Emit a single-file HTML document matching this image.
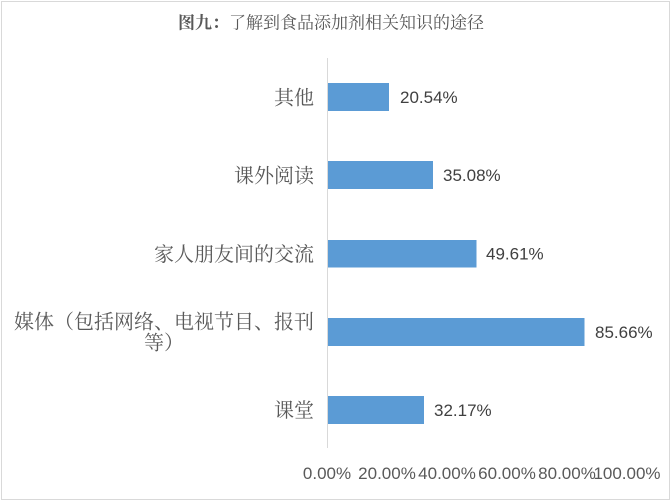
<!DOCTYPE html>
<html><head><meta charset="utf-8">
<style>
html,body{margin:0;padding:0;background:#fff;}
svg{display:block;}
.cat{font-family:"Noto Serif CJK SC","Liberation Serif",serif;font-size:20px;fill:#595959;}
.val{font-family:"Liberation Sans","Noto Sans CJK SC",sans-serif;font-size:17px;fill:#404040;}
.tick{font-family:"Liberation Sans","Noto Sans CJK SC",sans-serif;font-size:17px;fill:#595959;}
.title{font-family:"Noto Serif CJK SC","Liberation Serif",serif;font-size:17px;fill:#595959;}
</style></head>
<body>
<svg width="671" height="501" viewBox="0 0 671 501" xmlns="http://www.w3.org/2000/svg">
<rect x="0" y="0" width="671" height="501" fill="#fff"/>
<rect x="1.5" y="1.5" width="668" height="498" fill="none" stroke="#d9d9d9" stroke-width="1"/>
<text class="title" x="178" y="28.5"><tspan font-weight="bold">图九：</tspan>了解到食品添加剂相关知识的途径</text>

<line x1="327.5" y1="58" x2="327.5" y2="448" stroke="#d9d9d9" stroke-width="1"/>

<rect x="328" y="83" width="61" height="28" fill="#5b9bd5"/>
<rect x="328" y="161" width="105" height="28" fill="#5b9bd5"/>
<rect x="328" y="240" width="148.5" height="27.5" fill="#5b9bd5"/>
<rect x="328" y="318" width="256.5" height="28" fill="#5b9bd5"/>
<rect x="328" y="396" width="96" height="28" fill="#5b9bd5"/>

<text class="val" x="400" y="103">20.54%</text>
<text class="val" x="443" y="181">35.08%</text>
<text class="val" x="486" y="259.5">49.61%</text>
<text class="val" x="595" y="338">85.66%</text>
<text class="val" x="434" y="416">32.17%</text>

<text class="cat" x="314" y="104.5" text-anchor="end">其他</text>
<text class="cat" x="314" y="182.5" text-anchor="end">课外阅读</text>
<text class="cat" x="314" y="261" text-anchor="end">家人朋友间的交流</text>
<text class="cat" x="164" y="328.5" text-anchor="middle">媒体（包括网络、电视节目、报刊</text>
<text class="cat" x="164" y="349.5" text-anchor="middle">等）</text>
<text class="cat" x="314" y="417" text-anchor="end">课堂</text>

<text class="tick" x="327" y="479" text-anchor="middle">0.00%</text>
<text class="tick" x="387" y="479" text-anchor="middle">20.00%</text>
<text class="tick" x="447" y="479" text-anchor="middle">40.00%</text>
<text class="tick" x="507" y="479" text-anchor="middle">60.00%</text>
<text class="tick" x="567" y="479" text-anchor="middle">80.00%</text>
<text class="tick" x="627" y="479" text-anchor="middle">100.00%</text>
</svg>
</body></html>
